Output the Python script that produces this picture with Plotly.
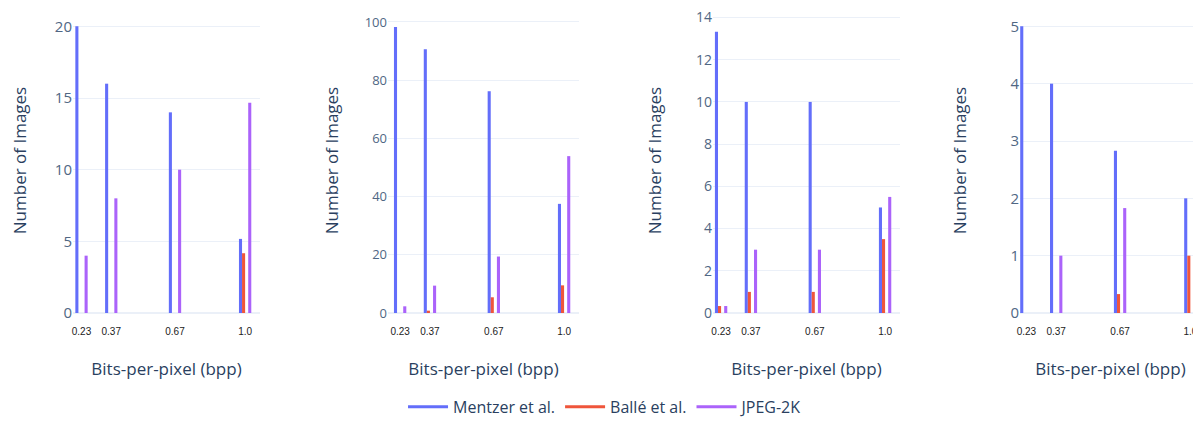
import plotly.graph_objects as go
from plotly.subplots import make_subplots

bpp = [0.23, 0.37, 0.67, 1.0]
tick_text = ["0.23", "0.37", "0.67", "1.0"]
series_names = ["Mentzer et al.", "Ballé et al.", "JPEG-2K"]
colors = ["#636efa", "#EF553B", "#ab63fa"]

# panel 1
p1_mentzer = [20, 16, 14, 5.17]
p1_balle = [0, 0, 0, 4.17]
p1_jpeg = [4, 8, 10, 14.67]
# panel 2
p2_mentzer = [98.3, 90.6, 76.2, 37.5]
p2_balle = [0, 0.8, 5.4, 9.5]
p2_jpeg = [2.3, 9.4, 19.4, 53.9]
# panel 3
p3_mentzer = [13.33, 10, 10, 5]
p3_balle = [0.33, 1, 1, 3.5]
p3_jpeg = [0.33, 3, 3, 5.5]
# panel 4
p4_mentzer = [5, 4, 2.83, 2]
p4_balle = [0, 0, 0.33, 1]
p4_jpeg = [0, 1, 1.83, 2]

panels = [
    (p1_mentzer, p1_balle, p1_jpeg),
    (p2_mentzer, p2_balle, p2_jpeg),
    (p3_mentzer, p3_balle, p3_jpeg),
    (p4_mentzer, p4_balle, p4_jpeg),
]

W, H = 1193, 414
L, R, T, B = 65, 0, 0, 109
pw = W - L - R

def dom(a, b):
    return [(a - L) / pw, (b - L) / pw]

domains = [dom(65, 252), dom(380, 571), dom(705, 892), dom(1012, 1193)]
xranges = [[0.19, 1.07], [0.173, 1.07], [0.192, 1.07], [0.2, 1.05]]
yranges = [[0, 21.28], [0, 104.8], [0, 14.45], [0, 5.32]]
dticks = [5, 20, 2, 1]
ystandoffs = [30, 21, 30, 39]
ytick_sizes = [15, 13, 14, 15]

bar_w = 0.0145
offsets = [-2 * bar_w, -bar_w, bar_w]

fig = make_subplots(rows=1, cols=4)

for i, vals in enumerate(panels):
    for j, v in enumerate(vals):
        fig.add_trace(
            go.Bar(
                x=bpp, y=v, name=series_names[j], marker_color=colors[j],
                marker_line_width=0, width=bar_w, offset=offsets[j],
                showlegend=False,
            ),
            row=1, col=i + 1,
        )

for j in range(3):
    fig.add_trace(
        go.Scatter(x=[None], y=[None], mode="lines", name=series_names[j],
                   line=dict(color=colors[j], width=3)),
        row=1, col=1,
    )

for i in range(4):
    fig.update_xaxes(
        domain=domains[i], range=xranges[i], tickvals=bpp, ticktext=tick_text,
        showgrid=False, zeroline=False,
        tickfont=dict(family="Liberation Sans, Arial", size=10, color="#222222"),
        ticklabelstandoff=11,
        title=dict(text="Bits-per-pixel (bpp)", font=dict(size=17, color="#2a3f5f"), standoff=27),
        row=1, col=i + 1,
    )
    fig.update_yaxes(
        range=yranges[i], dtick=dticks[i],
        tickfont=dict(size=ytick_sizes[i], color="#506784"),
        ticklabeloverflow="allow",
        title=dict(text="Number of Images", font=dict(size=17, color="#2a3f5f"),
                   standoff=ystandoffs[i]),
        row=1, col=i + 1,
    )

fig.update_layout(
    template="plotly_white",
    width=W, height=H,
    margin=dict(l=L, r=R, t=T, b=B, autoexpand=False),
    font=dict(family="Open Sans, Noto Sans, sans-serif"),
    legend=dict(orientation="h", x=0.4721, xanchor="center", y=-0.308, yanchor="middle",
                itemwidth=40, font=dict(size=16, color="#2a3f5f")),
    barmode="group",
)

fig.write_html("out.html")
